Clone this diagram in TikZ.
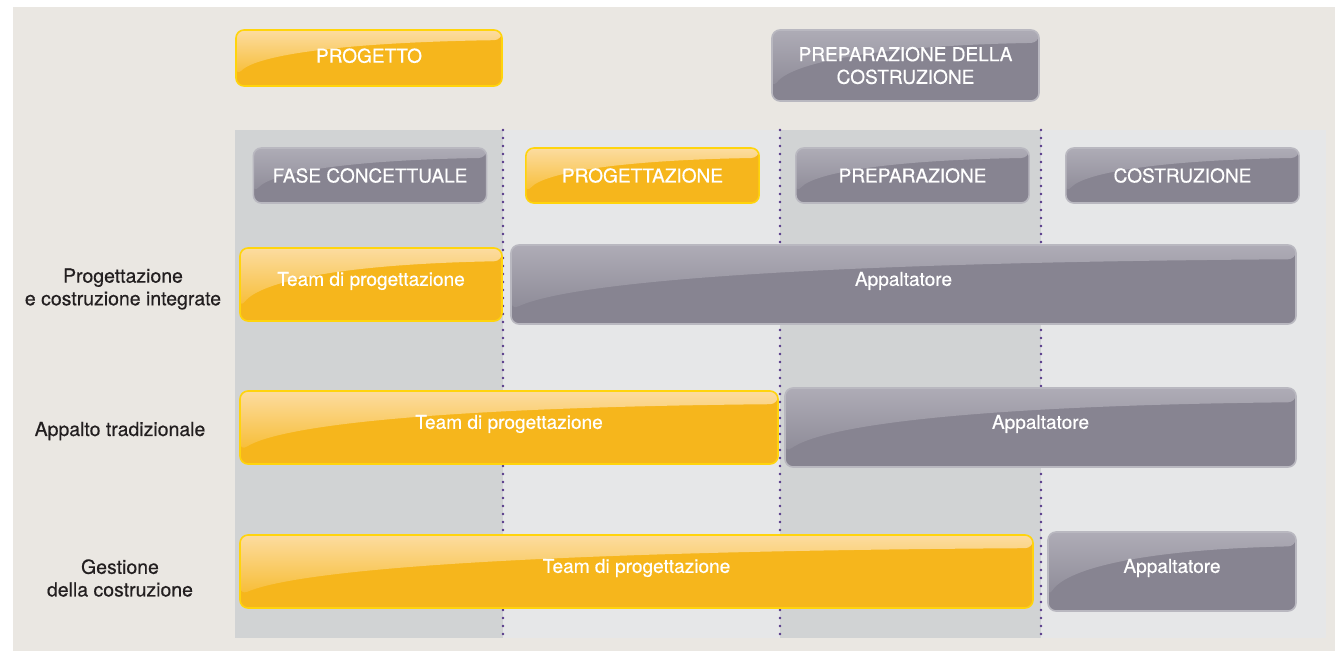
\documentclass[tikz,border=0pt]{standalone}
\usepackage{fontspec}
\setmainfont{TeX Gyre Heros}
\usetikzlibrary{calc}
\definecolor{bgbeige}{HTML}{EAE7E2}
\definecolor{coldark}{HTML}{D1D3D4}
\definecolor{collight}{HTML}{E6E7E8}
\definecolor{boxorange}{HTML}{F6B61C}
\definecolor{orangeedge}{HTML}{FFD40C}
\definecolor{orangegloss}{HTML}{FCDCA0}
\definecolor{boxgray}{HTML}{878491}
\definecolor{grayedge}{HTML}{B9B8C0}
\definecolor{graygloss}{HTML}{AEACB6}
\definecolor{dotpurple}{HTML}{553789}
\definecolor{labeltext}{HTML}{231F20}
\newcommand\glossfill[2]{%
  \shade[top color=#1, bottom color=#2]
    let \p1=(path picture bounding box.south west),
        \p2=(path picture bounding box.north east) in
    (\x1,\y2) -- (\x2,\y2) -- (\x2,{\y2-0.18*(\y2-\y1)})
    .. controls ({\x1+0.4*(\x2-\x1)},{\y2-0.22*(\y2-\y1)})
       and ({\x1+0.08*(\x2-\x1)},{\y2-0.45*(\y2-\y1)})
    .. (\x1,{\y1+0.18*(\y2-\y1)}) -- cycle;}
\tikzset{
  boxbase/.style={rounded corners=6pt, line width=1.2pt, inner sep=0pt,
    text=white, font=\fontsize{14.3}{17}\selectfont\addfontfeature{FakeBold=0.5}, align=center},
  obox/.style={boxbase, fill=boxorange, draw=orangeedge,
    path picture={\glossfill{orangegloss}{boxorange}}},
  gbox/.style={boxbase, fill=boxgray, draw=grayedge,
    path picture={\glossfill{graygloss}{boxgray}}},
  phasebox/.style={minimum width=175pt, minimum height=41.25pt},
  teamrow/.style={minimum height=54.75pt, text height=10pt, text depth=8pt},
  approw/.style={minimum height=59.25pt, text height=10pt, text depth=8pt},
  rowlabel/.style={text=labeltext, font=\fontsize{14.6}{17}\selectfont\addfontfeature{FakeBold=0.4}, align=center},
  dotline/.style={dotpurple, line width=2pt, line cap=round, dash pattern=on 0pt off 6pt}
}
\begin{document}
\begin{tikzpicture}[x=0.75pt, y=-0.75pt]
  \useasboundingbox (0,0) rectangle (1335,651);
  \fill[bgbeige] (13,7) rectangle (1335,651);
  \foreach \a/\b/\c in {235/503/coldark, 503/780/collight, 780/1041/coldark, 1041/1326/collight}
    \fill[\c] (\a,130) rectangle (\b,638);
  \foreach \x in {503,780,1041}
    \draw[dotline] (\x,130) -- (\x,638);

  \node[obox, minimum width=199.5pt, minimum height=42pt, text height=10pt, text depth=3pt] (progetto) at (369,58) {PROGETTO};
  \node[gbox, minimum width=200.25pt, minimum height=53.25pt] (prepcostr) at (905.5,65.5) {PREPARAZIONE DELLA\\COSTRUZIONE};

  \node[gbox, phasebox] (fase) at (370,175.5) {FASE CONCETTUALE};
  \node[obox, phasebox] (progettazione) at (642.5,175.5) {PROGETTAZIONE};
  \node[gbox, phasebox] (preparazione) at (912.5,175.5) {PREPARAZIONE};
  \node[gbox, phasebox] (costruzione) at (1182.5,175.5) {COSTRUZIONE};

  \node[rowlabel] (rowint) at (123,289) {Progettazione\\e costruzione integrate};
  \node[rowlabel] (rowtrad) at (120,431) {Appalto tradizionale};
  \node[rowlabel] (rowcm) at (120,578) {Gestione\\della costruzione};

  \node[obox, teamrow, minimum width=196.5pt] (team1) at (371,284.5) {Team di progettazione};
  \node[gbox, approw, minimum width=588.75pt] (app1) at (903.5,284.5) {Appaltatore};
  \node[obox, teamrow, minimum width=403.5pt] (team2) at (509,427.5) {Team di progettazione};
  \node[gbox, approw, minimum width=383.25pt] (app2) at (1040.5,427.5) {Appaltatore};
  \node[obox, teamrow, minimum width=594.75pt] (team3) at (636.5,571.5) {Team di progettazione};
  \node[gbox, approw, minimum width=186pt] (app3) at (1172,571.5) {Appaltatore};
\end{tikzpicture}
\end{document}
